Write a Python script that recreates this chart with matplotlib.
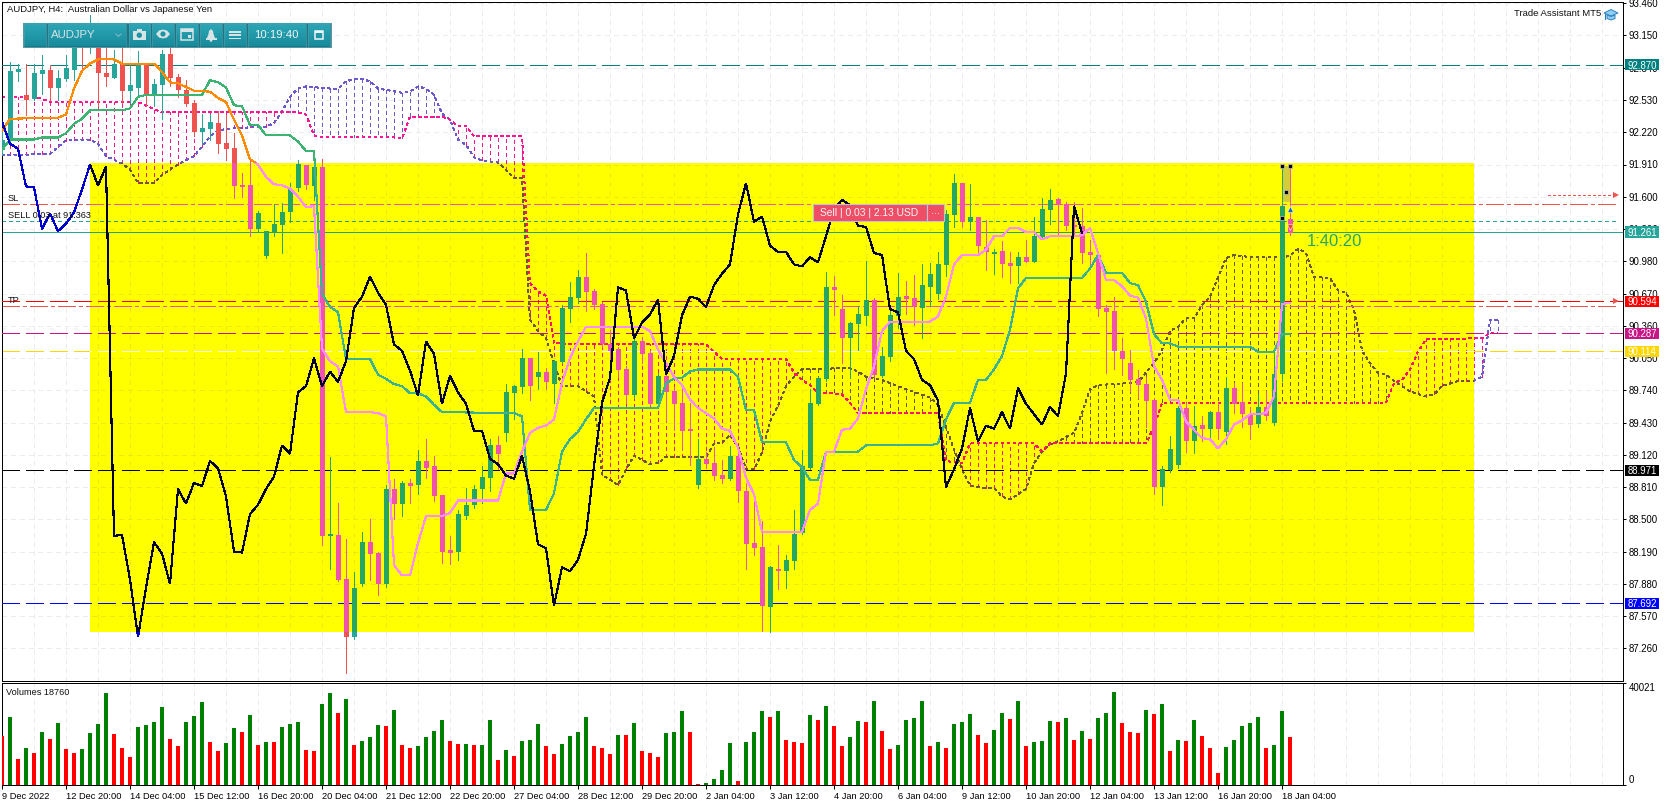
import numpy as np
import matplotlib
matplotlib.use("Agg")
import matplotlib.pyplot as plt
from matplotlib.collections import LineCollection
from matplotlib.colors import to_rgb, LinearSegmentedColormap
from matplotlib.patches import Rectangle, Polygon, Circle
from matplotlib.transforms import blended_transform_factory

plt.rcParams['font.family'] = ['Liberation Sans', 'DejaVu Sans']
plt.rcParams['lines.scale_dashes'] = False

opens = [92.05,92.14,92.80,92.58,92.54,92.78,92.82,92.65,92.73,92.82,93.12,93.03,93.04,92.79,92.74,92.88,92.62,92.65,92.88,92.58,
92.67,92.97,92.75,92.63,92.50,92.22,92.25,92.31,92.12,92.07,91.71,91.71,91.29,91.03,91.26,91.33,91.45,91.68,91.91,91.70,
91.89,88.34,88.35,87.93,87.37,87.88,88.28,88.18,87.88,88.79,88.65,88.85,88.83,89.06,89.01,88.73,88.20,88.19,88.53,88.64,
88.79,88.90,89.21,89.33,89.71,89.77,90.05,89.87,89.92,89.80,90.01,90.52,90.63,90.83,90.69,90.57,90.18,90.14,89.94,89.69,
90.21,90.10,89.61,89.88,89.73,89.62,89.36,88.83,89.08,89.04,88.93,88.89,89.11,88.77,88.27,88.23,87.66,88.02,88.00,88.10,
88.37,88.99,89.61,89.85,90.73,90.52,90.24,90.38,90.45,90.61,89.88,90.06,90.45,90.65,90.63,90.53,90.73,90.67,90.94,91.42,
91.73,91.36,91.41,91.12,91.05,91.08,90.96,90.93,91.02,90.97,91.21,91.47,91.58,91.53,91.33,91.32,91.07,91.04,90.53,90.50,
90.12,90.00,89.85,89.80,89.65,88.81,88.97,89.02,89.57,89.25,89.41,89.37,89.53,89.34,89.76,89.63,89.51,89.42,89.58,89.43,
89.90,91.39]
closes = [92.15,92.81,92.83,92.53,92.79,92.82,92.65,92.74,92.84,93.07,
93.07,93.17,92.79,92.75,92.88,92.62,92.67,92.88,92.59,92.68,
92.97,92.74,92.63,92.49,92.22,92.26,92.32,92.11,92.06,91.70,
91.69,91.29,91.44,91.27,91.34,91.45,91.67,91.91,91.71,91.89,
88.34,88.35,87.92,87.37,87.84,88.28,88.17,87.88,88.79,88.65,
88.85,88.82,89.06,88.99,88.72,88.19,88.18,88.55,88.64,88.79,
88.91,89.21,89.13,89.72,89.78,90.05,89.78,89.92,89.82,90.02,
90.53,90.64,90.83,90.68,90.56,90.18,90.12,89.93,89.69,90.21,
90.09,89.61,89.88,89.72,89.61,89.35,89.35,89.08,89.03,88.92,
88.89,89.11,88.77,88.26,88.22,87.67,88.04,88.00,88.11,88.36,
89.01,89.62,89.86,90.73,90.70,90.24,90.39,90.47,90.61,89.89,
90.07,90.46,90.64,90.62,90.54,90.75,90.86,90.95,91.43,91.73,
91.36,91.41,91.13,91.07,91.07,90.95,90.93,91.02,90.97,91.22,
91.48,91.57,91.52,91.32,91.31,91.06,91.04,90.52,90.49,90.12,
90.04,89.84,89.79,89.64,88.81,88.98,89.18,89.57,89.25,89.40,
89.37,89.53,89.37,89.76,89.61,89.51,89.41,89.58,89.49,89.90,
91.51,91.25]
highs = [92.26,92.90,92.88,92.88,92.88,92.96,92.87,92.82,92.96,93.12,
93.20,93.35,93.17,93.04,93.01,93.04,92.88,93.00,92.88,92.73,
93.01,93.04,92.78,92.72,92.53,92.40,92.40,92.42,92.39,92.21,
91.83,91.94,91.46,91.27,91.53,91.54,91.73,91.95,91.91,92.03,
91.96,89.10,88.66,88.31,87.99,88.38,88.50,88.19,88.83,88.89,
88.87,88.89,89.17,89.27,89.11,88.73,88.34,88.59,88.80,88.83,
89.01,89.27,89.30,89.80,89.79,90.14,90.05,90.11,89.95,90.03,
90.56,90.78,90.90,91.06,90.71,90.59,90.32,90.16,89.97,90.24,
90.25,90.13,89.91,89.91,89.77,89.75,89.62,89.27,89.15,89.19,
89.07,89.20,89.15,88.85,88.72,88.48,88.05,88.25,88.16,88.59,
89.17,89.75,89.87,90.88,90.84,90.66,90.40,90.55,90.98,90.63,
90.16,90.51,90.87,90.79,90.85,90.95,90.96,91.07,91.47,91.82,
91.73,91.72,91.41,91.38,91.10,91.17,91.07,91.07,91.18,91.41,
91.59,91.67,91.59,91.55,91.55,91.49,91.18,91.04,90.56,90.64,
90.24,90.13,89.93,89.87,89.67,89.01,89.30,89.59,89.62,89.59,
89.49,89.54,89.62,89.87,89.81,89.81,89.58,89.70,89.73,90.10,
91.90,91.90]
lows = [92.00,92.13,92.71,92.39,92.53,92.59,92.53,92.53,92.71,92.72,
92.82,92.98,92.47,92.66,92.74,92.50,92.50,92.58,92.47,92.47,
92.35,92.66,92.56,92.47,92.18,92.11,92.15,92.02,91.95,91.59,
91.60,91.22,91.27,91.01,91.22,91.06,91.36,91.66,91.67,91.57,
88.25,88.02,87.91,87.02,87.35,87.86,87.92,87.77,87.85,88.50,
88.53,88.66,88.74,88.90,88.68,88.08,88.07,88.11,88.50,88.61,
88.66,88.77,88.98,89.25,89.46,89.71,89.65,89.75,89.75,89.62,
90.00,90.40,90.58,90.50,90.52,90.16,89.84,89.87,89.62,89.67,
90.00,89.60,89.59,89.44,89.36,89.17,89.02,88.80,88.99,88.88,
88.85,88.88,88.67,88.02,88.16,87.43,87.42,87.83,87.84,88.02,
88.36,88.98,89.60,89.83,90.46,90.00,89.86,90.13,90.37,89.87,
89.87,90.02,90.34,90.47,90.37,90.24,90.55,90.62,90.84,91.31,
91.31,91.28,91.06,90.90,90.86,90.83,90.77,90.77,90.97,90.97,
91.21,91.34,91.22,91.28,91.22,90.96,90.93,90.45,89.91,89.94,
89.89,89.73,89.67,89.39,88.74,88.64,88.95,88.99,89.15,89.14,
89.25,89.25,89.27,89.22,89.52,89.39,89.27,89.39,89.45,89.41,
89.83,91.23]
volumes = [19150,26530,10220,14490,12550,20700,17990,24200,14100,12550,14100,20320,23810,35840,19930,14490,11000,22650,23420,24590,
30410,17990,15270,24590,26920,32350,16820,13330,16430,22260,20700,27300,15660,16820,16820,22650,23810,24590,13720,13330,
31570,35840,28080,33510,15660,17210,18760,23420,23030,29240,15660,14490,15270,18760,21090,25360,17210,16050,16060,15660,
15670,25360,9830,13720,11390,17210,17600,23810,15270,12160,16050,19150,20700,26530,15270,14490,12160,19540,19540,24200,
13330,12550,11000,20320,20700,28860,20700,520,910,2460,5950,16430,1680,16820,20700,28860,26530,28860,17600,16820,
16430,27300,25360,30800,23030,15270,18760,24970,24590,32740,21090,14100,15660,25360,26140,32740,15270,16820,14490,23810,
24590,27690,19540,16430,21480,28080,25750,32740,15270,16820,17210,24970,24590,26140,17600,21090,17990,26140,28080,36230,
24200,20700,20320,29240,27690,31570,13330,17600,17210,25360,19150,14490,4790,14880,17600,23030,24200,26530,14490,15660,
28860,18760]

tenkan_i = [0,1,7,8,9,10,11,12,14,15,19,20,21,22,24,26,27,28,29,30,31,32,33,34,35,36,37,38,39,40,41,42,43,46,47,48,49,50,51,52,53,55,56,57,62,63,64,65,66,67,68,69,70,71,72,73,80,81,82,83,84,85,86,87,88,89,90,91,92,93,94,95,100,101,102,103,104,105,106,107,108,109,110,111,116,117,118,119,120,122,123,124,125,126,127,128,129,130,131,134,135,136,137,138,139,140,141,142,143,144,145,146,147,148,149,150,151,152,153,154,155,156,157,158,159,160,161]
tenkan_v = [92.23,92.35,92.36,92.39,92.64,92.81,92.88,92.92,92.92,92.88,92.88,92.80,92.70,92.69,92.62,92.61,92.55,92.51,92.34,92.19,91.96,91.91,91.79,91.72,91.71,91.68,91.60,91.50,91.51,90.14,90.02,89.97,89.53,89.53,89.52,89.49,88.06,87.96,87.96,88.27,88.53,88.53,88.56,88.68,88.68,88.94,88.94,89.15,89.33,89.38,89.40,89.46,89.81,90.05,90.21,90.35,90.35,90.31,90.13,90.00,89.87,89.79,89.65,89.57,89.52,89.47,89.37,89.35,89.19,88.90,88.74,88.38,88.38,88.59,88.65,89.15,89.15,89.36,89.37,89.47,89.75,89.97,90.31,90.40,90.40,90.45,90.64,90.95,91.04,91.04,91.09,91.22,91.22,91.30,91.30,91.26,91.26,91.19,91.22,91.22,91.23,91.30,91.06,90.80,90.80,90.74,90.65,90.63,90.43,89.97,89.84,89.65,89.65,89.44,89.36,89.28,89.27,89.18,89.27,89.41,89.45,89.51,89.51,89.52,89.68,90.57,90.58]
kijun_i = [0,1,3,4,5,7,8,9,10,11,15,16,17,18,25,26,27,28,29,30,31,32,33,36,37,38,39,40,41,42,43,46,47,48,49,50,51,52,53,54,55,64,65,66,68,69,70,71,72,73,74,82,83,84,85,86,87,91,92,93,94,95,98,99,100,101,102,103,107,108,116,117,118,119,121,122,123,124,125,126,127,128,135,136,137,138,140,141,142,143,144,145,146,147,156,157,159,160,161]
kijun_v = [92.05,92.15,92.15,92.15,92.17,92.17,92.21,92.30,92.35,92.43,92.43,92.45,92.56,92.58,92.58,92.72,92.70,92.65,92.48,92.47,92.29,92.29,92.19,92.19,92.13,92.04,92.04,90.67,90.54,90.49,90.04,90.04,89.89,89.85,89.80,89.78,89.71,89.71,89.68,89.60,89.53,89.52,89.49,88.59,88.59,88.75,89.15,89.27,89.34,89.46,89.57,89.57,89.81,89.85,89.86,89.92,89.94,89.94,89.87,89.55,89.55,89.24,89.24,89.07,89.00,88.88,88.88,89.15,89.15,89.21,89.21,89.23,89.46,89.62,89.62,89.84,89.84,89.94,90.07,90.32,90.72,90.82,90.82,90.91,91.04,90.87,90.87,90.77,90.75,90.59,90.28,90.19,90.19,90.16,90.16,90.11,90.11,90.28,90.28]
span_a_i = [0,6,7,8,11,12,13,15,16,17,19,20,21,22,24,25,26,27,29,32,33,34,35,36,37,38,41,42,43,44,45,46,47,50,51,52,53,54,55,56,57,58,59,60,61,62,63,64,65,66,67,68,69,70,72,73,74,75,76,77,78,79,81,82,83,88,89,90,91,92,93,94,95,96,97,98,99,100,104,105,106,107,108,110,113,116,117,118,119,120,121,123,124,125,126,128,129,130,131,132,134,135,136,137,141,142,143,144,145,146,147,148,149,150,151,152,153,154,156,160,161,162,163,164,166,167,168,169,170,171,172,173,174,176,178,179,180,182,184,185,186,187]
span_a_v = [92.00,92.01,92.08,92.14,92.15,92.11,91.99,91.92,91.86,91.73,91.73,91.81,91.86,91.91,91.99,92.08,92.18,92.24,92.26,92.27,92.27,92.31,92.42,92.56,92.64,92.66,92.64,92.64,92.71,92.73,92.73,92.71,92.64,92.60,92.61,92.66,92.64,92.58,92.40,92.34,92.15,92.10,91.98,91.95,91.94,91.93,91.86,91.78,91.78,90.42,90.31,90.24,90.00,89.78,89.78,89.73,89.68,88.93,88.88,88.83,88.98,89.11,89.03,89.04,89.10,89.10,89.23,89.23,89.31,89.20,88.98,88.98,89.14,89.44,89.59,89.78,89.87,89.94,89.95,89.95,89.95,89.92,89.87,89.84,89.75,89.67,89.60,89.39,89.17,88.98,88.82,88.80,88.80,88.72,88.69,88.79,89.04,89.15,89.22,89.25,89.33,89.52,89.75,89.79,89.81,89.82,89.91,90.00,90.13,90.31,90.35,90.43,90.43,90.56,90.64,90.82,91.01,91.04,91.02,91.02,91.03,91.10,91.06,90.83,90.82,90.70,90.68,90.51,90.13,90.00,89.91,89.89,89.83,89.73,89.68,89.70,89.78,89.83,89.83,89.87,90.42,90.42]
span_b_i = [0,4,5,6,16,17,20,37,38,39,40,49,50,51,55,56,57,58,59,65,66,67,68,69,88,89,90,98,99,100,101,102,104,105,106,107,117,118,120,121,129,130,131,143,144,145,173,174,175,176,177,178,185,186,187]
span_b_v = [92.56,92.56,92.54,92.51,92.51,92.51,92.41,92.41,92.39,92.19,92.17,92.17,92.16,92.37,92.37,92.34,92.28,92.28,92.18,92.18,90.77,90.69,90.65,90.19,90.18,90.11,90.04,90.04,89.91,89.84,89.79,89.71,89.71,89.70,89.62,89.52,89.52,89.06,89.04,89.23,89.23,89.15,89.23,89.23,89.39,89.62,89.62,89.81,89.84,89.94,90.11,90.23,90.24,90.29,90.29]

price_ticks = [93.46,93.15,92.84,92.53,92.22,91.91,91.60,91.29,90.98,90.67,90.36,90.05,89.74,89.43,89.12,88.81,88.50,88.19,87.88,87.57,87.26]
date_labels = ["9 Dec 2022","12 Dec 20:00","14 Dec 04:00","15 Dec 12:00","16 Dec 20:00","20 Dec 04:00","21 Dec 12:00","22 Dec 20:00","27 Dec 04:00","28 Dec 12:00","29 Dec 20:00","2 Jan 04:00","3 Jan 12:00","4 Jan 20:00","6 Jan 04:00","9 Jan 12:00","10 Jan 20:00","12 Jan 04:00","13 Jan 12:00","16 Jan 20:00","18 Jan 04:00"]
level_tp, level_mid, level_gold, level_black, level_blue, level_teal, level_bid = 90.594, 90.287, 90.114, 88.971, 87.692, 92.870, 91.261
level_sl, level_tp2, level_sell, level_arrow = 91.527, 90.547, 91.363, 91.614
zone_i = (11, 184)
zone_p = (87.42, 91.92)

W, H = 1670, 806
PX = 0.72
FS = 6.9
fig = plt.figure(figsize=(W/100, H/100), dpi=100, facecolor='white')
ax = fig.add_axes([2/W, (H-680.5)/H, 1620.5/W, 678.5/H])
ax.set_xlim(0, 1620.5/8)
ax.set_ylim(91.91-(680.5-164.5)*0.009612, 91.91+(164.5-2)*0.009612)
vax = fig.add_axes([2/W, (H-785)/H, 1620.5/W, 102.3/H])
vax.set_xlim(ax.get_xlim())
vax.set_ylim(0, 40021)

TEAL, RED = '#26a69a', '#ef5350'
PURPLE, PINK = '#6a5acd', '#ff1493'
GRID = '#ebebeb'
THIN = 0.5
EDGE = 0.36
LINE = 0.8
def inv(c):
    r, g, b = to_rgb(c)
    return (r, g, 1-b)
def same(c):
    return c

i_arr = np.arange(len(closes))
o, c, h, l = map(np.array, (opens, closes, highs, lows))
grid_x = np.arange(0, 204, 4)
ext = np.arange(188)
a_all = np.interp(ext, span_a_i, span_a_v)
b_all = np.interp(ext, span_b_i, span_b_v)

def dash(*p):
    return (0, tuple(v*PX for v in p))

def layer(col, clip=None):
    arts = []
    z = 2 if clip is None else 3.1
    arts += [ax.vlines(grid_x, *ax.get_ylim(), colors=col(GRID), linewidth=THIN, linestyles=[dash(5, 5)], antialiased=False, zorder=z)]
    arts += [ax.hlines(price_ticks, *ax.get_xlim(), colors=col(GRID), linewidth=THIN, linestyles=[dash(5, 5)], antialiased=False, zorder=z)]
    seg = [[(x, a), (x, b)] for x, a, b in zip(ext, a_all, b_all) if abs(a-b) > 0.03]
    cols = [col(PURPLE) if a > b else col(PINK) for x, a, b in zip(ext, a_all, b_all) if abs(a-b) > 0.03]
    lc = LineCollection(seg, colors=cols, linewidths=EDGE, linestyles=[dash(3, 3)], antialiased=False, zorder=z+.01)
    ax.add_collection(lc)
    arts.append(lc)
    arts += ax.plot(span_a_i, span_a_v, color=col(PURPLE), lw=EDGE, ls=dash(2.5, 3.5), aa=False, zorder=z+.02)
    arts += ax.plot(span_b_i, span_b_v, color=col(PINK), lw=EDGE, ls=dash(2.5, 3.5), aa=False, zorder=z+.02)
    for lev, clr, ds in [(level_sl, RED, dash(18, 4, 4, 4)), (level_tp2, RED, dash(18, 4, 4, 4)), (level_sell, TEAL, dash(3, 3))]:
        arts += ax.plot([0, 202.1], [lev, lev], color=col(clr), lw=THIN, ls=ds, aa=False, zorder=z+.03)
    arts += ax.plot([0, 202.5], [level_bid, level_bid], color=col(TEAL), lw=THIN, aa=False, zorder=z+.03)
    return arts

def candles(col, clip=None):
    arts = []
    z = 5 if clip is None else 5.1
    up = c >= o
    wc = [col(TEAL) if u else col(RED) for u in up]
    arts.append(ax.vlines(i_arr, l, h, colors=wc, linewidth=THIN, antialiased=False, zorder=z))
    bars = ax.bar(i_arr, np.maximum(np.abs(c-o), 0.02), bottom=np.minimum(o, c), width=0.625, color=wc, linewidth=0, antialiased=False, zorder=z+.01)
    arts += list(bars)
    arts += ax.plot(tenkan_i, tenkan_v, color=col('#ff8c00'), lw=LINE, aa=False, zorder=z+.03, solid_joinstyle='miter')
    arts += ax.plot(kijun_i, kijun_v, color=col('#3cb371'), lw=LINE, aa=False, zorder=z+.02, solid_joinstyle='miter')
    arts += ax.plot(i_arr[:len(closes)-26], closes[26:], color=col('#0000cd'), lw=LINE, aa=False, zorder=z+.04, solid_joinstyle='miter')
    return arts

layer(same)
candles(same)
zone = Rectangle((zone_i[0], zone_p[0]), zone_i[1]-zone_i[0], zone_p[1]-zone_p[0], facecolor='#ffff00', edgecolor='none', antialiased=False, zorder=3)
ax.add_patch(zone)
for art in layer(inv, zone) + candles(inv, zone):
    art.set_clip_path(zone)

for lev, clr in [(level_teal, '#008080'), (level_tp, '#ff0000'), (level_mid, '#c71585'), (level_black, '#000000'), (level_blue, '#0000ff')]:
    ax.plot([0, 202.5], [lev, lev], color=clr, lw=THIN, ls=dash(18, 6), aa=False, zorder=4)
ax.plot([0, 202.5], [level_gold, level_gold], color='#ffd700', lw=THIN, ls=dash(18, 6), aa=False, zorder=2.5)
gl = ax.plot([0, 202.5], [level_gold, level_gold], color='#ffffff', lw=THIN, ls=dash(18, 6), aa=False, zorder=4)[0]
gl.set_clip_path(zone)

ax.add_patch(Rectangle((160, level_sl+0.02), 1, 91.90-level_sl-0.02, facecolor='#d4cc38', edgecolor='none', antialiased=False, zorder=4.5))
ax.plot([193.2, 201.6], [level_arrow, level_arrow], color=RED, lw=THIN, ls=dash(2.5, 2.5), aa=False, zorder=4)
ax.plot([201.8], [level_arrow], marker='>', color=RED, ms=5, mew=0, zorder=4.2, clip_on=False)
ax.plot([201.8], [level_tp], marker='>', color=RED, ms=5, mew=0, zorder=4.2, clip_on=False)
for xi, yv in [(160, 91.895), (161, 91.895), (160.5, 91.65), (160, 91.40)]:
    ax.plot([xi], [yv], marker='s', ms=3, mfc='black', mec='#c8c8c8', mew=0.5, zorder=8)
ax.plot([161], [level_sell+0.12], marker='^', ms=4, color='#1565c0', mec='white', mew=.4, zorder=8)
ax.plot([161], [level_sell-0.05], marker='v', ms=4, color='#e8471d', mec='white', mew=.4, zorder=8)

ax.yaxis.tick_right()
ax.set_yticks(price_ticks)
ax.set_yticklabels([f"{p:.3f}" for p in price_ticks], fontsize=FS)
ax.tick_params(axis='y', length=3*PX, width=PX, pad=2.2)
ax.set_xticks([])
for s in ax.spines.values():
    s.set_linewidth(PX)
ax.set_facecolor('white')

tr = blended_transform_factory(ax.transAxes, ax.transData)
ax_w = 1620.5
for lev, clr in [(level_teal, '#008080'), (level_bid, '#26a69a'), (level_tp, '#ff0000'), (level_mid, '#c71585'), (level_gold, '#ffd700'), (level_black, '#000000'), (level_blue, '#0000ff')]:
    ax.add_patch(Rectangle((1+2.6/ax_w, lev-5.7*0.009612), 34/ax_w, 11.4*0.009612, transform=tr, facecolor=clr, edgecolor='none', clip_on=False, zorder=20, antialiased=False))
    ax.text(1+19.6/ax_w, lev, f"{lev:.3f}", transform=tr, color='white', fontsize=FS, ha='center', va='center_baseline', clip_on=False, zorder=21)

vol = np.array(volumes)
vcol = ['#ff0000' if k == 0 or vol[k] <= vol[k-1] else '#008000' for k in range(len(vol))]
vax.bar(np.arange(len(vol)), vol, width=0.5, color=vcol, linewidth=0, antialiased=False, zorder=3)
vax.vlines(grid_x, 0, 40021, colors=GRID, linewidth=THIN, linestyles=[dash(5, 5)], antialiased=False, zorder=1)
vax.yaxis.tick_right()
vax.set_yticks([0, 40021])
vax.set_yticklabels(['0', '40021'], fontsize=FS)
vax.get_yticklabels()[0].set_va('bottom')
vax.get_yticklabels()[1].set_va('top')
vax.tick_params(axis='y', length=3*PX, width=PX, pad=2.2)
vax.set_xticks(np.arange(len(date_labels))*8)
vax.set_xticklabels(date_labels, fontsize=6.7, ha='left')
vax.tick_params(axis='x', length=4*PX, width=PX, pad=2.2)
for s in vax.spines.values():
    s.set_linewidth(PX)
vax.text(4/1620.5, 0.905, "Volumes 18760", transform=vax.transAxes, fontsize=6.6, va='center', color='#111111')

ov = fig.add_axes([0, 0, 1, 1], zorder=30)
ov.set_xlim(0, W); ov.set_ylim(H, 0); ov.axis('off'); ov.patch.set_alpha(0)
ov.add_patch(Rectangle((23.3, 23.3), 308, 24, fc='#1a7585', ec='#5c97a6', lw=.7, antialiased=False))
grad = np.linspace(0, 1, 16)[:, None]
cm = LinearSegmentedColormap.from_list('b', ['#2ba7b7', '#1a8c9c'])
btns = [(23.5, 45.5), (48, 126), (128.5, 150), (152, 174), (176, 198), (200, 222), (224, 246), (248, 306), (308, 330)]
for x0, x1 in btns:
    ov.imshow(grad, extent=(x0, x1, 46.5, 24), cmap=cm, aspect='auto', zorder=2)
    ov.add_patch(Rectangle((x0, 24), x1-x0, 22.5, fc='none', ec='#4f9aa9', lw=.5, zorder=3))
ov.set_xlim(0, W); ov.set_ylim(H, 0)
LT = '#d6e4e6'
ov.text(51, 35, 'AUDJPY', color=LT, fontsize=8.2, va='center', zorder=4)
ov.plot([116, 118.5, 121], [34, 36.5, 34], color='#7fb7c2', lw=.8, zorder=4)
ov.text(276.5, 35, '10:19:40', color='#eef6f7', fontsize=8.2, ha='center', va='center', zorder=4)
ov.add_patch(Rectangle((133, 30.5), 12.5, 9.5, fc=LT, ec='none', zorder=4))
ov.add_patch(Rectangle((136.5, 28.5), 5.5, 2.5, fc=LT, ec='none', zorder=4))
ov.add_patch(Circle((139.3, 35.2), 2.7, fc='#1f93a3', ec='none', zorder=5))
ov.add_patch(Polygon([(156, 34), (159, 30.5), (163, 29.5), (167, 30.5), (170, 34), (167, 37.5), (163, 38.5), (159, 37.5)], fc=LT, ec='none', zorder=4))
ov.add_patch(Circle((163, 34), 2.6, fc='#1f93a3', ec='none', zorder=5))
ov.add_patch(Rectangle((181, 29), 12, 11, fc='none', ec=LT, lw=1.1, zorder=4))
ov.add_patch(Rectangle((181, 29), 12, 3, fc=LT, ec='none', zorder=4))
ov.add_patch(Rectangle((187.5, 34.5), 3.5, 3.5, fc=LT, ec='none', zorder=4))
ov.add_patch(Polygon([(207, 38), (208.5, 34), (209, 31), (211, 29), (213, 31), (213.5, 34), (215, 38)], fc=LT, ec='none', zorder=4))
ov.add_patch(Rectangle((205.5, 38), 11, 1.6, fc=LT, ec='none', zorder=4))
ov.add_patch(Circle((211, 40.5), 1.3, fc=LT, ec='none', zorder=4))
for yy in (31, 34.3, 37.6):
    ov.add_patch(Rectangle((229, yy), 12, 1.6, fc=LT, ec='none', zorder=4))
ov.add_patch(Rectangle((314.5, 31), 8, 7.5, fc='none', ec='#eef6f7', lw=1.1, zorder=4))
ov.add_patch(Rectangle((314.5, 30.5), 8, 2, fc='#eef6f7', ec='none', zorder=4))

ov.text(7, 9.5, 'AUDJPY, H4:  Australian Dollar vs Japanese Yen', fontsize=6.8, va='center', color='#111111')
ov.text(1514, 13.5, 'Trade Assistant MT5', fontsize=6.8, va='center', color='#111111')
ov.add_patch(Polygon([(1604, 13), (1611, 9.5), (1618, 13), (1611, 16)], fc='#8fd0f2', ec='#2b7fc0', lw=.7))
ov.add_patch(Polygon([(1607, 15), (1607, 18.5), (1611, 20), (1615, 18.5), (1615, 15), (1611, 16.5)], fc='#8fd0f2', ec='#2b7fc0', lw=.7))
ov.plot([1605, 1605], [13.5, 18.5], color='#2b7fc0', lw=.8)
ov.text(8, 198.5, 'SL', fontsize=6.7, va='center', color='#111111')
ov.text(8, 215.5, 'SELL 0.03 at 91.363', fontsize=6.6, va='center', color='#111111')
ov.text(8, 300.5, 'TP', fontsize=6.7, va='center', color='#111111')
ov.text(1307, 241, '1:40:20', fontsize=12, va='center', color='#26a665')
ov.add_patch(Rectangle((813, 204), 114, 17, fc='#ee4f66', ec='#b9c4d6', lw=.8))
ov.add_patch(Rectangle((927, 204), 17, 17, fc='#ee4f66', ec='#b9c4d6', lw=.8))
ov.text(820, 212.8, 'Sell | 0.03 | 2.13 USD', fontsize=7.4, color='#f6f6f6', va='center')
ov.text(935.5, 211.5, '...', fontsize=8, color='#f6f6f6', va='center', ha='center')

fig.savefig('out.png', dpi=100, facecolor='white')
